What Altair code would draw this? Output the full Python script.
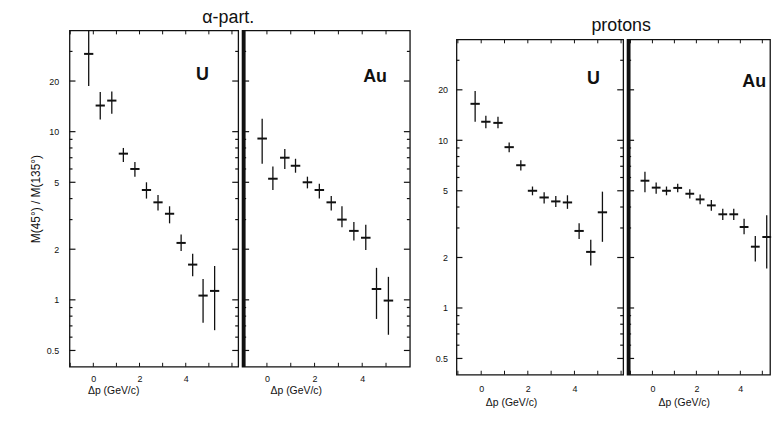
import altair as alt
import pandas as pd

# ---------------- data ----------------
# alpha particles, U target
a_u_dp = [-0.2, 0.3, 0.8, 1.3, 1.8, 2.3, 2.8, 3.3, 3.8, 4.3, 4.75, 5.25]
a_u_val = [29, 14.3, 15.3, 7.4, 6.0, 4.5, 3.8, 3.25, 2.18, 1.62, 1.06, 1.13]
a_u_lo = [18.7, 11.8, 12.8, 6.6, 5.4, 4.0, 3.4, 2.85, 1.95, 1.38, 0.73, 0.66]
a_u_hi = [40, 17.2, 17.3, 8.0, 6.6, 5.0, 4.2, 3.6, 2.45, 1.88, 1.33, 1.59]

# alpha particles, Au target
a_au_dp = [-0.2, 0.25, 0.75, 1.2, 1.7, 2.2, 2.7, 3.15, 3.65, 4.15, 4.6, 5.1]
a_au_val = [9.1, 5.25, 7.0, 6.27, 5.0, 4.5, 3.8, 3.0, 2.57, 2.34, 1.16, 0.99]
a_au_lo = [6.45, 4.5, 6.0, 5.7, 4.6, 4.0, 3.4, 2.7, 2.25, 1.98, 0.77, 0.62]
a_au_hi = [11.95, 6.2, 7.9, 6.9, 5.4, 4.9, 4.15, 3.6, 2.9, 2.8, 1.55, 1.37]

# protons, U target
p_u_dp = [-0.26, 0.2, 0.72, 1.2, 1.7, 2.2, 2.7, 3.2, 3.7, 4.2, 4.7, 5.2]
p_u_val = [16.5, 12.9, 12.7, 9.1, 7.1, 5.0, 4.56, 4.32, 4.26, 2.88, 2.16, 3.72]
p_u_lo = [12.9, 11.8, 11.8, 8.5, 6.6, 4.7, 4.2, 4.0, 3.9, 2.58, 1.79, 2.48]
p_u_hi = [19.7, 14.0, 13.8, 9.7, 7.6, 5.3, 4.9, 4.65, 4.7, 3.2, 2.55, 4.94]

# protons, Au target
p_au_dp = [-0.34, 0.17, 0.64, 1.15, 1.7, 2.17, 2.68, 3.2, 3.7, 4.17, 4.68, 5.2]
p_au_val = [5.74, 5.22, 5.0, 5.2, 4.8, 4.44, 4.09, 3.62, 3.62, 3.04, 2.32, 2.65]
p_au_lo = [4.9, 4.8, 4.7, 4.9, 4.5, 4.15, 3.8, 3.35, 3.35, 2.75, 1.89, 1.72]
p_au_hi = [6.5, 5.6, 5.3, 5.5, 5.1, 4.75, 4.4, 3.9, 3.9, 3.4, 2.69, 3.57]

# axis ticks / labels
y_major = [0.5, 1, 2, 5, 10, 20]
y_minor = [0.6, 0.7, 0.8, 0.9, 3, 4, 6, 7, 8, 9, 30]
x_labels = [0, 2, 4]
x_ticks = [-1, 0, 1, 2, 3, 4, 5, 6]

FONT = "Liberation Sans"
INK = "#111111"
XTITLE = "\u0394p (GeV/c)"
YTITLE = "M(45\u00b0) / M(135\u00b0)"


def make_panel(dp, val, lo, hi, xdom, w, h, *, ylabels, ytitle, ylab_pad,
               divider, right_ticks, xtitle_x, xtitle_y, xlab_pad,
               letter, letter_xy):
    df = pd.DataFrame(dict(dp=dp, val=val, lo=lo, hi=hi))
    xs = alt.Scale(domain=xdom, nice=False, zero=False)
    ys = alt.Scale(type="log", domain=[0.4, 40], nice=False)
    xaxis = alt.Axis(values=x_labels, format="d", ticks=False, domain=False,
                     grid=False, labelPadding=xlab_pad, labelFontSize=9,
                     titleFontSize=10.5, titleFontWeight="normal",
                     titleX=xtitle_x, titleY=xtitle_y, titleBaseline="middle")
    if ylabels:
        yaxis = alt.Axis(values=y_major, format=".1~f", ticks=False,
                         domain=False, grid=False, labelPadding=ylab_pad,
                         labelFontSize=9, titleFontSize=12,
                         titleFontWeight="normal", titlePadding=4)
    else:
        yaxis = None

    def X(f):
        return alt.X(f"{f}:Q", scale=xs, axis=xaxis, title=XTITLE)

    def Y(f):
        return alt.Y(f"{f}:Q", scale=ys, axis=yaxis, title=ytitle)

    layers = []
    layers.append(alt.Chart(df).mark_rule(strokeWidth=1.3, color=INK)
                  .encode(x=X("dp"), y=Y("lo"), y2="hi"))
    layers.append(alt.Chart(df)
                  .transform_calculate(xl="datum.dp - 0.2", xr="datum.dp + 0.2")
                  .mark_rule(strokeWidth=2, color=INK)
                  .encode(x=X("xl"), x2="xr", y=Y("val")))
    major = pd.DataFrame({"v": y_major})
    minor = pd.DataFrame({"v": y_minor})
    if divider:
        # thick dividing line between the U and Au panels
        layers.append(alt.Chart(major).mark_rule(strokeWidth=3, color=INK)
                      .encode(x=alt.value(1.5), y=alt.value(0),
                              y2=alt.value(h)))
    # inward ticks on the left edge of every panel
    lmaj, lmin = (7, 4) if divider else (6, 3)
    layers.append(alt.Chart(major).mark_rule(strokeWidth=1.2, color=INK)
                  .encode(y=Y("v"), x=alt.value(0), x2=alt.value(lmaj)))
    layers.append(alt.Chart(minor).mark_rule(strokeWidth=1.2, color=INK)
                  .encode(y=Y("v"), x=alt.value(0), x2=alt.value(lmin)))
    # inward ticks on the right edge (the divider's other half, or frame)
    if right_ticks:
        layers.append(alt.Chart(major).mark_rule(strokeWidth=1.2, color=INK)
                      .encode(y=Y("v"), x=alt.value(w - 6), x2=alt.value(w)))
        layers.append(alt.Chart(minor).mark_rule(strokeWidth=1.2, color=INK)
                      .encode(y=Y("v"), x=alt.value(w - 3), x2=alt.value(w)))
    xt = pd.DataFrame({"t": [t for t in x_ticks if xdom[0] < t < xdom[1]]})
    layers.append(alt.Chart(xt).mark_rule(strokeWidth=1, color=INK)
                  .encode(x=X("t"), y=alt.value(h - 4), y2=alt.value(h)))
    layers.append(alt.Chart(xt).mark_rule(strokeWidth=1, color=INK)
                  .encode(x=X("t"), y=alt.value(0), y2=alt.value(4)))
    layers.append(alt.Chart(pd.DataFrame({"s": [letter]}))
                  .mark_text(font=FONT, fontSize=18, fontWeight="bold",
                             color=INK, align="center", baseline="middle")
                  .encode(text="s:N", x=alt.value(letter_xy[0]),
                          y=alt.value(letter_xy[1])))
    return alt.layer(*layers).properties(width=w, height=h)


def title_chart(text, w, h, x, y):
    return (alt.Chart(pd.DataFrame({"s": [text]}))
            .mark_text(font=FONT, fontSize=18, color=INK, align="center",
                       baseline="middle")
            .encode(text="s:N", x=alt.value(x), y=alt.value(y))
            .properties(width=w, height=h,
                        view=alt.ViewBackground(stroke=None)))


aU = make_panel(a_u_dp, a_u_val, a_u_lo, a_u_hi, [-1.03, 6.27], 170, 339,
                ylabels=True, ytitle=YTITLE, ylab_pad=11,
                divider=False, right_ticks=True, xtitle_x=44, xtitle_y=24,
                xlab_pad=8, letter="U", letter_xy=(134, 45))
aAu = make_panel(a_au_dp, a_au_val, a_au_lo, a_au_hi, [-1.04, 6.0], 169, 339,
                 ylabels=False, ytitle=None, ylab_pad=0, divider=True,
                 right_ticks=True, xtitle_x=54, xtitle_y=24, xlab_pad=8,
                 letter="Au", letter_xy=(134, 47))
pU = make_panel(p_u_dp, p_u_val, p_u_lo, p_u_hi, [-1.06, 6.09], 168, 338,
                ylabels=True, ytitle=None, ylab_pad=9, divider=False,
                right_ticks=True, xtitle_x=55, xtitle_y=28, xlab_pad=10,
                letter="U", letter_xy=(138, 40))
pAu = make_panel(p_au_dp, p_au_val, p_au_lo, p_au_hi, [-1.15, 5.35], 144, 338,
                 ylabels=False, ytitle=None, ylab_pad=0, divider=True,
                 right_ticks=False, xtitle_x=57, xtitle_y=28, xlab_pad=10,
                 letter="Au", letter_xy=(128, 43))

alpha = alt.vconcat(
    title_chart("\u03b1-part.", 339, 15, 160, 7),
    alt.hconcat(aU, aAu, spacing=0),
    spacing=0,
)
proton = alt.vconcat(
    title_chart("protons", 312, 25, 166, 15),
    alt.hconcat(pU, pAu, spacing=0),
    spacing=0,
)

chart = (
    alt.hconcat(alpha, proton, spacing=22)
    .properties(padding={"left": 20, "top": 0, "right": 0, "bottom": 0},
                background="white")
    .configure_view(stroke=INK, strokeWidth=1.3)
    .configure_axis(labelFont=FONT, titleFont=FONT, labelColor=INK,
                    titleColor=INK)
)

chart.save("out.html", embed_options={"renderer": "svg", "actions": False})
